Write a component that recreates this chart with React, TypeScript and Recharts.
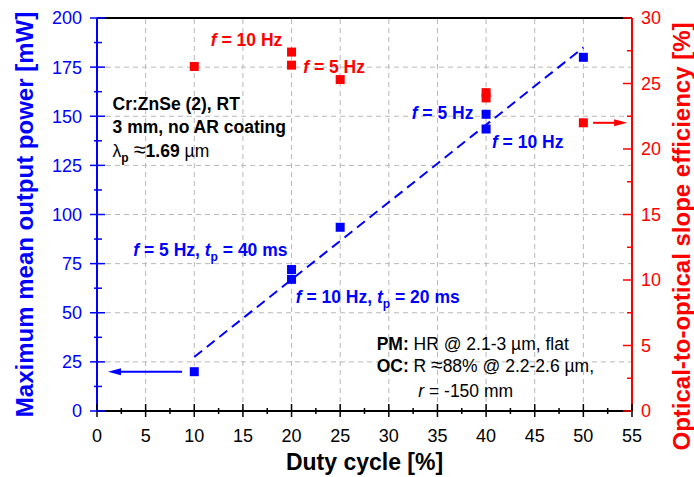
import React from 'react';
import { ComposedChart, Scatter, XAxis, YAxis, ReferenceLine, ReferenceDot } from 'recharts';

const BLUE = '#0000ff';
const RED = '#ff0000';
const FONT = '"Liberation Sans", Arial, Helvetica, sans-serif';

// measurements: duty cycle [%]
const dutyCycle = [10, 20, 20, 25, 40, 40, 50];
// maximum mean output power [mW]
const outputPower = [20, 72, 67, 93.5, 151, 143.5, 180];
// optical-to-optical slope efficiency [%]
const slopeEfficiency = [26.3, 27.4, 26.4, 25.3, 24.3, 23.9, 22.0];

// linear fit through the power points
const fitDuty = [10, 50];
const fitPower = [27.5, 185];

// axis tick values
const dutyTicks = [0, 5, 10, 15, 20, 25, 30, 35, 40, 45, 50, 55];
const powerTicks = [0, 25, 50, 75, 100, 125, 150, 175, 200];
const effTicks = [0, 5, 10, 15, 20, 25, 30];

const withMinor = (major: number[]) => {
  const out: number[] = [];
  major.forEach((v, i) => {
    out.push(v);
    if (i < major.length - 1) out.push((v + major[i + 1]) / 2);
  });
  return out;
};

const powerPoints = dutyCycle.map((x, i) => ({ x, y: outputPower[i] }));
const effPoints = dutyCycle.map((x, i) => ({ x, y: slopeEfficiency[i] }));

type Seg = { t: string; it?: boolean; w?: 'bold' | 'normal'; sub?: boolean; size?: number };
type Note = { x: number; y: number; fill: string; weight: 'bold' | 'normal'; segs: Seg[] };

const f: Seg = { t: 'f', it: true };
const notes: Note[] = [
  { x: 11.7, y: 185.9, fill: RED, weight: 'bold', segs: [f, { t: ' = 10 Hz' }] },
  { x: 21.2, y: 172.2, fill: RED, weight: 'bold', segs: [f, { t: ' = 5 Hz' }] },
  { x: 1.6, y: 153.2, fill: '#000', weight: 'bold', segs: [{ t: 'Cr:ZnSe (2), RT' }] },
  { x: 1.6, y: 141.3, fill: '#000', weight: 'bold', segs: [{ t: '3 mm, no AR coating' }] },
  {
    x: 1.6, y: 129.3, fill: '#000', weight: 'bold',
    segs: [
      { t: 'λ', w: 'normal' }, { t: 'p', sub: true }, { t: ' ' },
      { t: '≈', w: 'normal', size: 22 }, { t: '1.69 ' }, { t: 'µm', w: 'normal' },
    ],
  },
  { x: 32.35, y: 148.6, fill: BLUE, weight: 'bold', segs: [f, { t: ' = 5 Hz' }] },
  { x: 40.6, y: 133.7, fill: BLUE, weight: 'bold', segs: [f, { t: ' = 10 Hz' }] },
  {
    x: 3.73, y: 79, fill: BLUE, weight: 'bold',
    segs: [f, { t: ' = 5 Hz, ' }, { t: 't', it: true }, { t: 'p', sub: true }, { t: ' = 40 ms' }],
  },
  {
    x: 20.43, y: 55.1, fill: BLUE, weight: 'bold',
    segs: [f, { t: ' = 10 Hz, ' }, { t: 't', it: true }, { t: 'p', sub: true }, { t: ' = 20 ms' }],
  },
  { x: 28.75, y: 31, fill: '#000', weight: 'normal', segs: [{ t: 'PM:', w: 'bold' }, { t: ' HR @ 2.1-3 µm, flat' }] },
  {
    x: 28.75, y: 20, fill: '#000', weight: 'normal',
    segs: [{ t: 'OC:', w: 'bold' }, { t: ' R ' }, { t: '≈', size: 21 }, { t: '88% @ 2.2-2.6 µm,' }],
  },
  { x: 33.03, y: 7.3, fill: '#000', weight: 'normal', segs: [{ t: 'r', it: true }, { t: ' = -150 mm' }] },
];

const RichText = ({ x, y, note }: { x: number; y: number; note: Note }) => {
  const size = 17.5;
  let shift = 0;
  return (
    <text x={x} y={y} fill={note.fill} fontFamily={FONT} fontSize={size} fontWeight={note.weight} style={{ whiteSpace: 'pre' }}>
      {note.segs.map((s, i) => {
        const target = s.sub ? 5 : 0;
        const dy = target - shift;
        shift = target;
        return (
          <tspan
            key={i} dy={dy || undefined} fontStyle={s.it ? 'italic' : undefined} fontWeight={s.w}
            fontSize={s.sub ? 12 : s.size}
          >
            {s.t}
          </tspan>
        );
      })}
    </text>
  );
};

const square = (color: string) => (p: any) => (
  <rect x={p.cx - 4.5} y={p.cy - 4.5} width={9} height={9} fill={color} />
);

const arrowHead = (color: string, dir: 1 | -1) => (p: any) => (
  <polygon
    points={`${p.cx},${p.cy} ${p.cx - dir * 13},${p.cy - 3.5} ${p.cx - dir * 13},${p.cy + 3.5}`}
    fill={color}
  />
);

const tickText = { fontFamily: FONT, fontSize: 18 };

const bottomTick = (p: any) => {
  const v = p.payload.value;
  const major = dutyTicks.includes(v);
  return (
    <g>
      <line x1={p.x} x2={p.x} y1={p.y - (major ? 7 : 3)} y2={p.y + (major ? 6 : 3)} stroke="#000" strokeWidth={1.5} />
      {major && (
        <text x={p.x} y={p.y + 31} textAnchor="middle" fill="#000" {...tickText}>{v}</text>
      )}
    </g>
  );
};

const topTick = (p: any) => {
  const major = dutyTicks.includes(p.payload.value);
  return <line x1={p.x} x2={p.x} y1={p.y} y2={p.y + (major ? 8 : 5)} stroke="#000" strokeWidth={1.5} />;
};

const leftTick = (p: any) => {
  const v = p.payload.value;
  const major = powerTicks.includes(v);
  return (
    <g>
      <line x1={p.x - (major ? 7 : 3)} x2={p.x + (major ? 8 : 5)} y1={p.y} y2={p.y} stroke={BLUE} strokeWidth={1.5} />
      {major && (
        <text x={p.x - 15} y={p.y} dy="0.36em" textAnchor="end" fill={BLUE} {...tickText}>{v}</text>
      )}
    </g>
  );
};

const rightTick = (p: any) => {
  const v = p.payload.value;
  const major = effTicks.includes(v);
  return (
    <g>
      <line x1={p.x - (major ? 9 : 5)} x2={p.x} y1={p.y} y2={p.y} stroke={RED} strokeWidth={1.5} />
      {major && (
        <text x={p.x + 9} y={p.y} dy="0.36em" textAnchor="start" fill={RED} {...tickText}>{v}</text>
      )}
    </g>
  );
};

const titleStyle = { fontFamily: FONT, fontWeight: 'bold' as const, fontSize: 24 };

const LeftTitle = ({ viewBox }: any) => {
  const x = viewBox.x - 4;
  const y = viewBox.y + viewBox.height / 2;
  return (
    <text x={x} y={y} transform={`rotate(-90, ${x}, ${y})`} textAnchor="middle" fill={BLUE} {...titleStyle}>
      Maximum mean output power [mW]
    </text>
  );
};

const RightTitle = ({ viewBox }: any) => {
  const x = viewBox.x + 58;
  const y = viewBox.y + viewBox.height / 2 + 22;
  return (
    <text x={x} y={y} transform={`rotate(-90, ${x}, ${y})`} textAnchor="middle" fill={RED} {...titleStyle}>
      Optical-to-optical slope efficiency [%]
    </text>
  );
};

const BottomTitle = ({ viewBox }: any) => (
  <text x={viewBox.x + viewBox.width / 2} y={viewBox.y + 59} textAnchor="middle" fill="#000" {...titleStyle} fontSize={23}>
    Duty cycle [%]
  </text>
);

export default function App() {
  const grid = { stroke: '#b8b8b8', strokeWidth: 1, strokeDasharray: '5 4' };
  return (
    <div style={{ position: 'absolute', left: 0, top: 0, background: '#fff' }}>
      <ComposedChart width={694} height={477} margin={{ top: 8, right: 2, bottom: 6, left: 37 }}>
        <XAxis
          xAxisId="b" dataKey="x" type="number" domain={[0, 55]} ticks={withMinor(dutyTicks)} interval={0}
          height={60} tickSize={0} tickMargin={0} tickLine={false} tick={bottomTick}
          axisLine={{ stroke: '#000', strokeWidth: 2 }} label={<BottomTitle />}
        />
        <XAxis
          xAxisId="t" orientation="top" dataKey="x" type="number" domain={[0, 55]} ticks={withMinor(dutyTicks)}
          interval={0} height={10} tickSize={0} tickMargin={0} tickLine={false} tick={topTick}
          axisLine={{ stroke: '#000', strokeWidth: 2 }}
        />
        <YAxis
          yAxisId="l" dataKey="y" type="number" domain={[0, 200]} ticks={withMinor(powerTicks)} interval={0}
          width={60} tickSize={0} tickMargin={0} tickLine={false} tick={leftTick}
          axisLine={{ stroke: BLUE, strokeWidth: 2 }} label={<LeftTitle />}
        />
        <YAxis
          yAxisId="r" orientation="right" dataKey="y" type="number" domain={[0, 30]} ticks={withMinor(effTicks)}
          interval={0} width={60} tickSize={0} tickMargin={0} tickLine={false} tick={rightTick}
          axisLine={{ stroke: RED, strokeWidth: 2 }} label={<RightTitle />}
        />

        {dutyTicks.slice(1, -1).map((v) => (
          <ReferenceLine key={`gx${v}`} x={v} xAxisId="b" yAxisId="l" {...grid} />
        ))}
        {powerTicks.slice(1, -1).map((v) => (
          <ReferenceLine key={`gy${v}`} y={v} xAxisId="b" yAxisId="l" {...grid} />
        ))}

        <ReferenceLine
          xAxisId="b" yAxisId="l"
          segment={[{ x: fitDuty[0], y: fitPower[0] }, { x: fitDuty[1], y: fitPower[1] }]}
          stroke={BLUE} strokeWidth={2} strokeDasharray="10 6"
        />

        {/* arrows pointing at the axis each series belongs to */}
        <ReferenceLine xAxisId="b" yAxisId="l" segment={[{ x: 8.74, y: outputPower[0] }, { x: 2, y: outputPower[0] }]} stroke={BLUE} strokeWidth={2} />
        <ReferenceDot xAxisId="b" yAxisId="l" x={1.13} y={outputPower[0]} r={1} shape={arrowHead(BLUE, -1)} />
        <ReferenceLine xAxisId="b" yAxisId="r" segment={[{ x: 51, y: slopeEfficiency[6] }, { x: 53.5, y: slopeEfficiency[6] }]} stroke={RED} strokeWidth={2} />
        <ReferenceDot xAxisId="b" yAxisId="r" x={54.5} y={slopeEfficiency[6]} r={1} shape={arrowHead(RED, 1)} />

        <Scatter xAxisId="b" yAxisId="r" data={effPoints} fill={RED} shape={square(RED)} isAnimationActive={false} />
        <Scatter xAxisId="b" yAxisId="l" data={powerPoints} fill={BLUE} shape={square(BLUE)} isAnimationActive={false} />

        {notes.map((n, i) => (
          <ReferenceDot
            key={`n${i}`} xAxisId="b" yAxisId="l" x={n.x} y={n.y} r={1}
            shape={(p: any) => <RichText x={p.cx} y={p.cy} note={n} />}
          />
        ))}
      </ComposedChart>
    </div>
  );
}
